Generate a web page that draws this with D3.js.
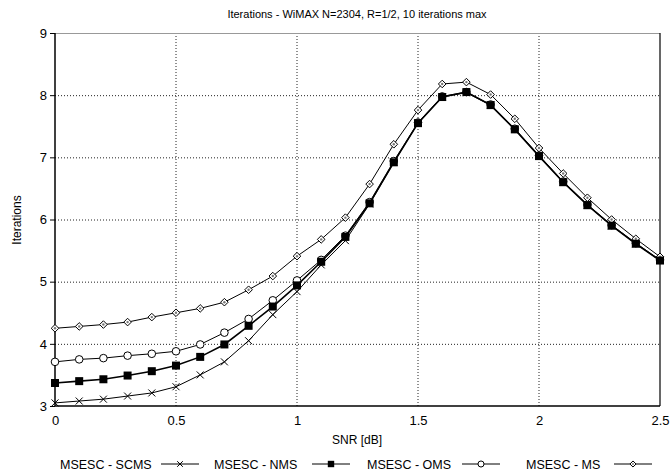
<!DOCTYPE html>
<html><head><meta charset="utf-8">
<script src="https://cdn.jsdelivr.net/npm/d3@7"></script>
<style>
html,body{margin:0;padding:0;background:#fff;}
text{font-family:"Liberation Sans",Arial,Helvetica,sans-serif;fill:#000;}
</style></head>
<body><svg id="c" width="671" height="472"></svg>
<script>
const snr = [0,0.1,0.2,0.3,0.4,0.5,0.6,0.7,0.8,0.9,1.0,1.1,1.2,1.3,1.4,1.5,1.6,1.7,1.8,1.9,2.0,2.1,2.2,2.3,2.4,2.5];
const scms = [3.05,3.08,3.11,3.16,3.21,3.31,3.50,3.71,4.05,4.47,4.84,5.27,5.66,6.25,6.92,7.55,7.97,8.04,7.84,7.45,7.02,6.60,6.23,5.90,5.61,5.34];
const nms  = [3.37,3.40,3.43,3.49,3.56,3.65,3.79,3.99,4.29,4.60,4.94,5.32,5.72,6.26,6.92,7.55,7.97,8.05,7.84,7.45,7.02,6.60,6.23,5.90,5.61,5.34];
const oms  = [3.71,3.75,3.77,3.81,3.84,3.88,3.99,4.18,4.40,4.70,5.02,5.35,5.74,6.28,6.94,7.56,7.98,8.05,7.85,7.46,7.03,6.61,6.24,5.91,5.62,5.35];
const ms   = [4.25,4.28,4.31,4.35,4.43,4.50,4.57,4.67,4.87,5.09,5.41,5.68,6.03,6.57,7.21,7.76,8.18,8.21,8.01,7.62,7.15,6.74,6.35,6.00,5.69,5.40];
const seriesNames = ["MSESC - SCMS","MSESC - NMS","MSESC - OMS","MSESC - MS"];
const xTicks = [0,0.5,1,1.5,2,2.5];
const yTicks = [3,4,5,6,7,8,9];
const titleText = "Iterations - WiMAX N=2304, R=1/2, 10 iterations max";

const svg = d3.select("#c");
const L=55, R=660, T=33, B=406;
const x = d3.scaleLinear().domain([0,2.5]).range([L,R]);
const y = d3.scaleLinear().domain([3,9]).range([B,T]);

// grid
const g = svg.append("g");
g.selectAll(".vg").data(xTicks.slice(1,-1)).enter().append("line")
  .attr("x1",d=>x(d)).attr("x2",d=>x(d)).attr("y1",T).attr("y2",B)
  .attr("stroke","#222").attr("stroke-width",1).attr("stroke-dasharray","1,2");
g.selectAll(".hg").data(yTicks.slice(1,-1)).enter().append("line")
  .attr("y1",d=>y(d)+0.5).attr("y2",d=>y(d)+0.5).attr("x1",L).attr("x2",R)
  .attr("stroke","#222").attr("stroke-width",1).attr("stroke-dasharray","1,2");
// frame
svg.append("line").attr("x1",L).attr("x2",R).attr("y1",T+0.5).attr("y2",T+0.5).attr("stroke","#999");
svg.append("line").attr("x1",R).attr("x2",R).attr("y1",T).attr("y2",B).attr("stroke","#000").attr("stroke-width",1.2);
svg.append("line").attr("x1",L).attr("x2",L).attr("y1",T).attr("y2",B).attr("stroke","#000").attr("stroke-width",1.5);
svg.append("line").attr("x1",L).attr("x2",R).attr("y1",B).attr("y2",B).attr("stroke","#000").attr("stroke-width",1.5);

// axes
const yAxis = d3.axisLeft(y).tickValues(yTicks).tickSize(5).tickPadding(3).tickFormat(d3.format("d"));
const ya = svg.append("g").attr("transform",`translate(${L},0)`).call(yAxis);
ya.select(".domain").remove();
ya.selectAll("text").style("font-size","13px").attr("font-family","Liberation Sans, Arial");
const xAxis = d3.axisBottom(x).tickValues(xTicks).tickSize(0).tickPadding(10).tickFormat(d=>d3.format("")(d));
const xa = svg.append("g").attr("transform",`translate(0,${B})`).call(xAxis);
xa.select(".domain").remove();
xa.selectAll("text").style("font-size","13px").attr("font-family","Liberation Sans, Arial");

// labels
svg.append("text").attr("x",357).attr("y",18).attr("text-anchor","middle").style("font-size","11px").text(titleText);
svg.append("text").attr("x",357).attr("y",444).attr("text-anchor","middle").style("font-size","12px").text("SNR [dB]");
svg.append("text").attr("transform","translate(21,220) rotate(-90)").attr("text-anchor","middle").style("font-size","12px").text("Iterations");

// series
const data = [scms,nms,oms,ms];
const widths = [1,1.6,1,1];
const drawOrder = [0,2,3,1];
const line = d3.line().x((d,i)=>x(snr[i])).y(d=>y(d));

function marker(sel, k, s){
  s = s || 1;
  if(k===0){
    const a=3.5*s;
    sel.append("path").attr("d",`M${-a},${-a}L${a},${a}M${-a},${a}L${a},${-a}`).attr("stroke","#000").attr("fill","none").attr("stroke-width",1);
  } else if(k===1){
    const a=4*s;
    sel.append("rect").attr("x",-a).attr("y",-a).attr("width",2*a).attr("height",2*a).attr("fill","#000");
  } else if(k===2){
    sel.append("circle").attr("r",3.8*s).attr("fill","#fff").attr("stroke","#000").attr("stroke-width",1);
  } else {
    const a=3.8*s;
    sel.append("path").attr("d",`M0,${-a}L${a},0L0,${a}L${-a},0Z`).attr("fill","#fff").attr("stroke","#000").attr("stroke-width",1);
    sel.append("circle").attr("r",1.2*s).attr("fill","#777");
  }
}

drawOrder.forEach(k=>{
  const vals = data[k];
  svg.append("path").datum(vals).attr("d",line).attr("fill","none").attr("stroke","#000").attr("stroke-width",widths[k]);
  svg.append("g").selectAll("g").data(vals).enter().append("g")
    .attr("transform",(d,i)=>`translate(${x(snr[i])},${y(d)})`)
    .each(function(){ marker(d3.select(this),k); });
});

// legend
const legX = [[60,161],[214,312],[367,462],[526,614]];
const ly = 464;
seriesNames.forEach((n,k)=>{
  svg.append("text").attr("x",legX[k][0]).attr("y",ly+4.5).style("font-size","12.5px").text(n);
  const lx = legX[k][1];
  svg.append("line").attr("x1",lx).attr("x2",lx+38).attr("y1",ly).attr("y2",ly).attr("stroke","#000").attr("stroke-width",1);
  const mg = svg.append("g").attr("transform",`translate(${lx+19},${ly})`);
  marker(mg,k,0.8);
});
</script></body></html>
